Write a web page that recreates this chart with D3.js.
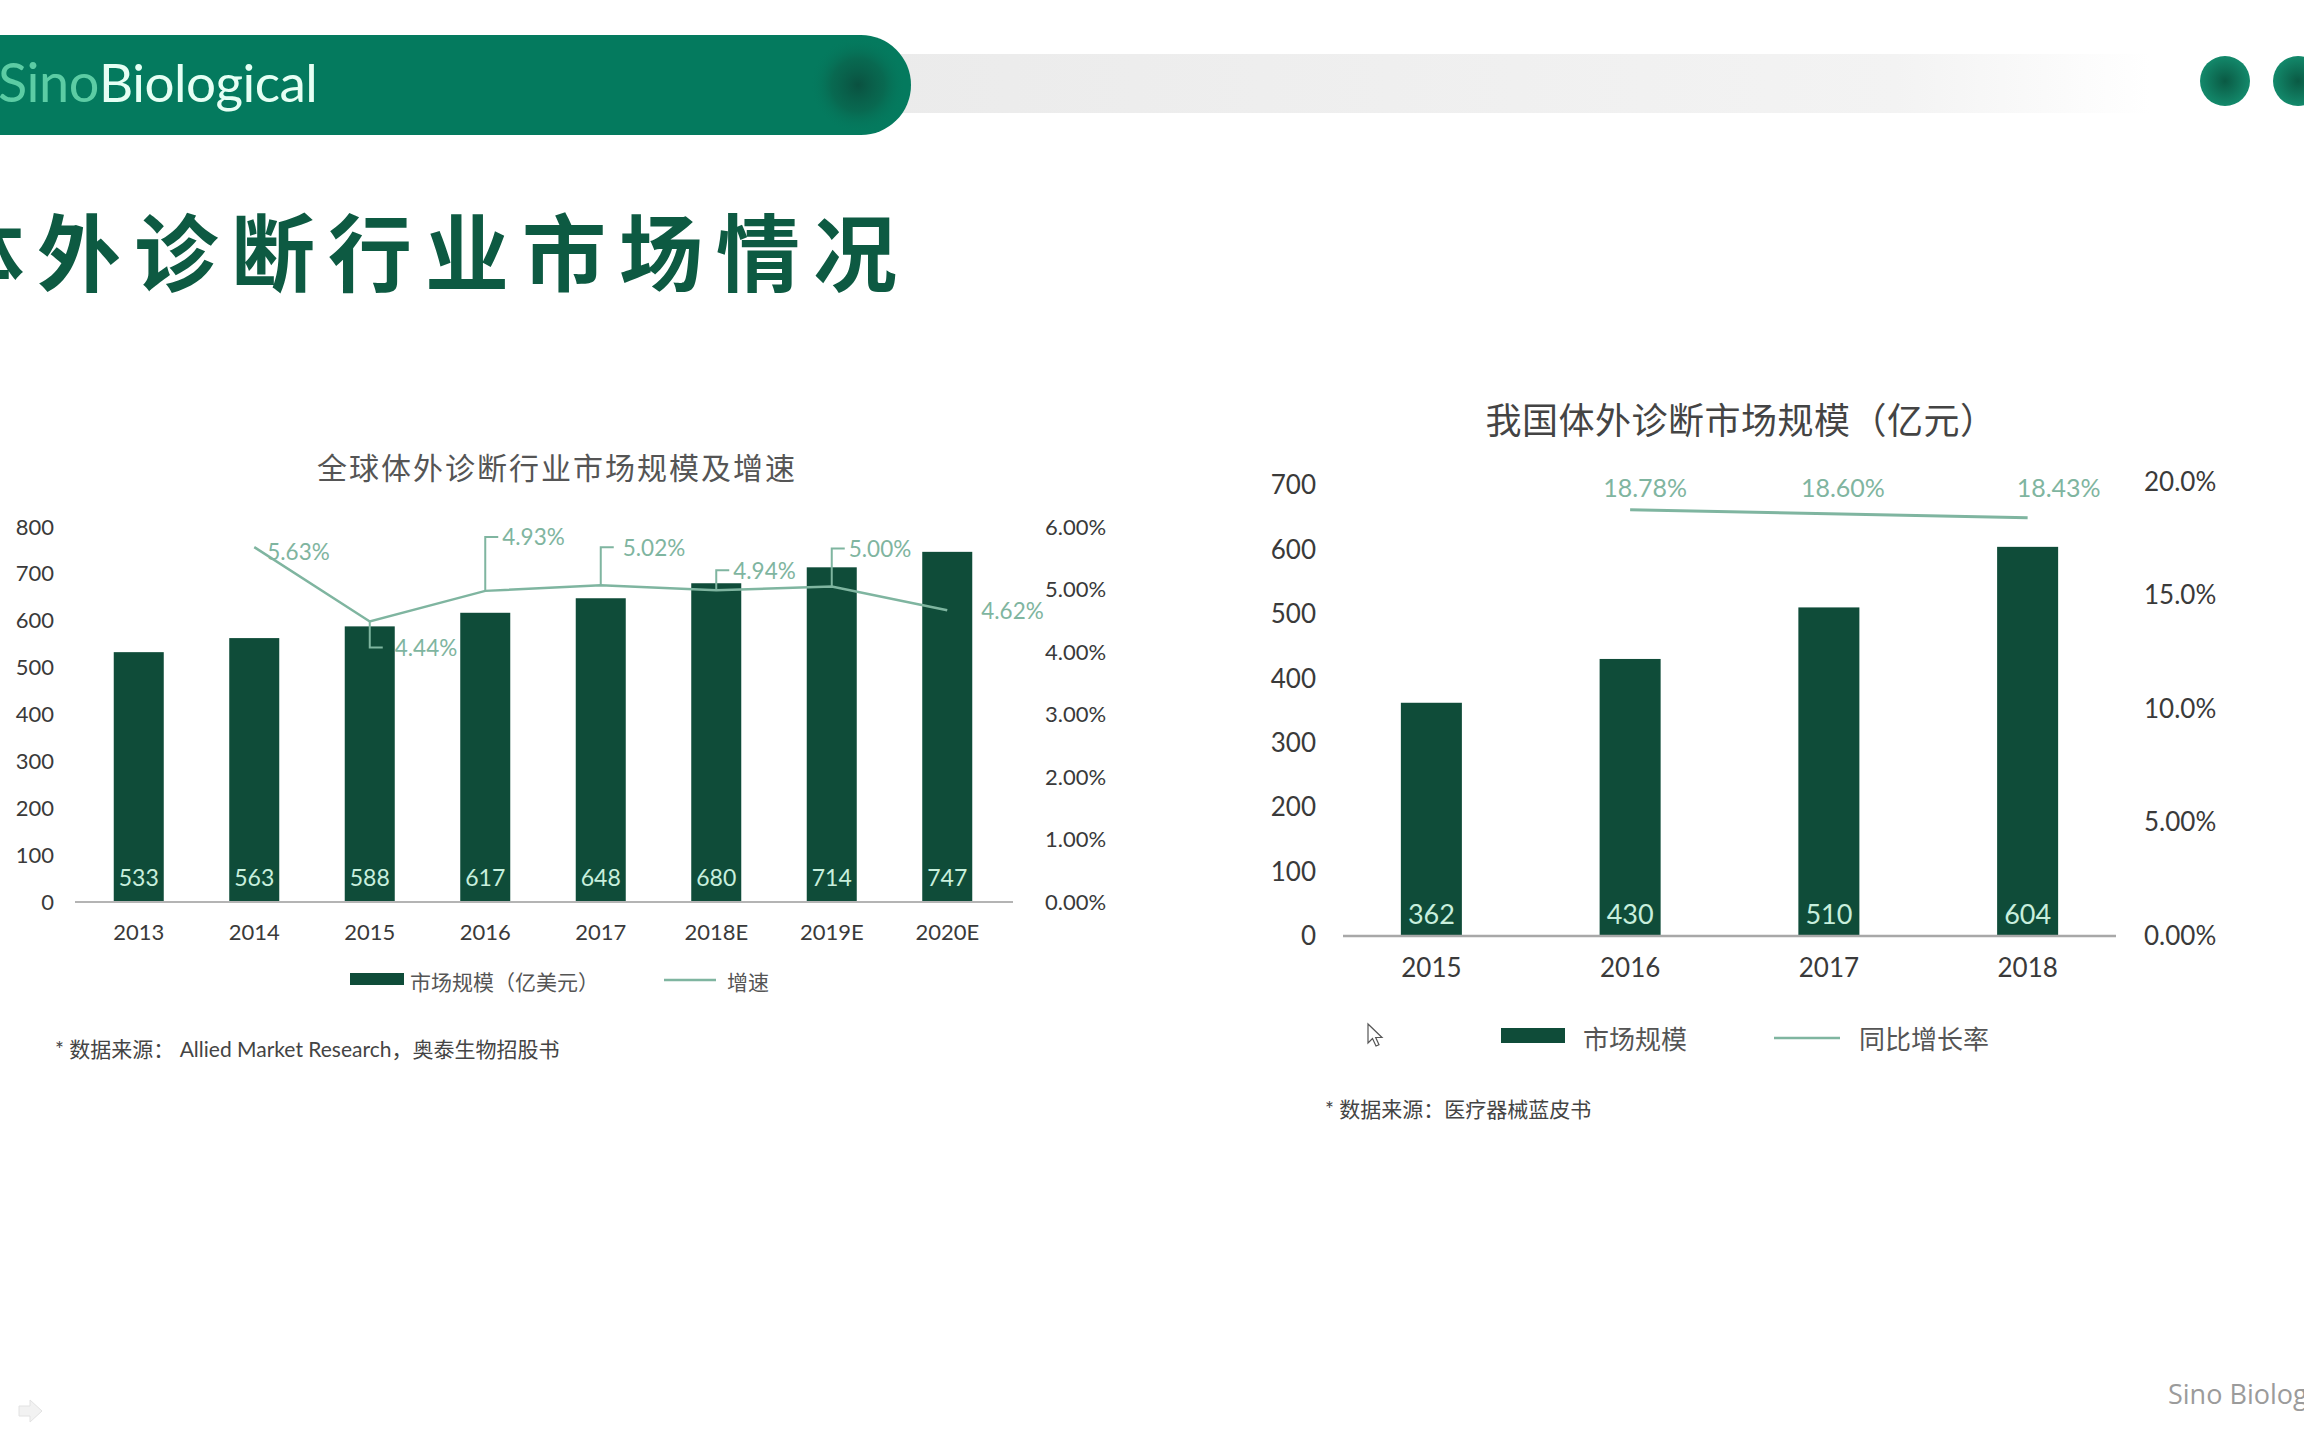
<!DOCTYPE html>
<html><head><meta charset="utf-8">
<script src="https://cdn.jsdelivr.net/npm/d3@7"></script>
<style>
html,body{margin:0;padding:0;background:#fff;}
svg{display:block;}
</style></head>
<body>
<svg id="c" width="2304" height="1440"></svg>
<script>
// ================= DATA =================
const globalYears = ["2013", "2014", "2015", "2016", "2017", "2018E", "2019E", "2020E"];
const globalSize = [533, 563, 588, 617, 648, 680, 714, 747];
const globalGrowthYears = ["2014", "2015", "2016", "2017", "2018E", "2019E", "2020E"];
const globalGrowth = [5.63, 4.44, 4.93, 5.02, 4.94, 5.00, 4.62];
const globalLeftTicks = [0, 100, 200, 300, 400, 500, 600, 700, 800];
const globalRightTicks = [0, 1, 2, 3, 4, 5, 6];
const globalRightTickLabels = ["0.00%", "1.00%", "2.00%", "3.00%", "4.00%", "5.00%", "6.00%"];

const chinaYears = ["2015", "2016", "2017", "2018"];
const chinaSize = [362, 430, 510, 604];
const chinaGrowthYears = ["2016", "2017", "2018"];
const chinaGrowth = [18.78, 18.60, 18.43];
const chinaLeftTicks = [0, 100, 200, 300, 400, 500, 600, 700];
const chinaRightTicks = [0, 5, 10, 15, 20];
const chinaRightTickLabels = ["0.00%", "5.00%", "10.0%", "15.0%", "20.0%"];

const pageTitle = "体外诊断行业市场情况";
const globalTitle = "全球体外诊断行业市场规模及增速";
const chinaTitle = "我国体外诊断市场规模（亿元）";
const globalLegend = ["市场规模（亿美元）", "增速"];
const chinaLegend = ["市场规模", "同比增长率"];
const globalSource = "* 数据来源： Allied Market Research，奥泰生物招股书";
const chinaSource = "* 数据来源：医疗器械蓝皮书";

// ================= STYLE =================
const BAR = "#0f4c39";
const LINE = "#7fb5a0";
const BARTXT = "#c8efdd";
const AXTXT = "#3a3a3a";
const LAT = "Lato, 'Noto Sans CJK SC', sans-serif";
const CJK = "'Noto Sans CJK SC', Lato, sans-serif";

const svg = d3.select("#c");
const defs = svg.append("defs");

// ---------- header ----------
const gGray = defs.append("linearGradient").attr("id", "gGray");
gGray.append("stop").attr("offset", "0").attr("stop-color", "#ebebeb");
gGray.append("stop").attr("offset", "0.8").attr("stop-color", "#f3f3f3");
gGray.append("stop").attr("offset", "1").attr("stop-color", "#ffffff");
svg.append("rect").attr("x", 880).attr("y", 54).attr("width", 1270).attr("height", 59).attr("fill", "url(#gGray)");

svg.append("path").attr("d", "M0,35 H861 A50,50 0 0 1 861,135 H0 Z").attr("fill", "#047a5e");
const gSpot = defs.append("radialGradient").attr("id", "gSpot");
gSpot.append("stop").attr("offset", "0").attr("stop-color", "#0a5140").attr("stop-opacity", 1);
gSpot.append("stop").attr("offset", "0.55").attr("stop-color", "#0b5e48").attr("stop-opacity", 0.6);
gSpot.append("stop").attr("offset", "1").attr("stop-color", "#047a5e").attr("stop-opacity", 0);
svg.append("circle").attr("cx", 858).attr("cy", 85).attr("r", 48).attr("fill", "url(#gSpot)");

svg.append("text").attr("x", -2).attr("y", 102).attr("font-family", "Lato, sans-serif").attr("font-size", 54)
  .attr("font-weight", 400).attr("fill", "#5ccca4").attr("letter-spacing", -0.5).text("Sino");
svg.append("text").attr("x", 99).attr("y", 102).attr("font-family", "Lato, sans-serif").attr("font-size", 53)
  .attr("font-weight", 400).attr("fill", "#e6fff4").attr("letter-spacing", -0.5).text("Biological");

const gDot = defs.append("radialGradient").attr("id", "gDot");
gDot.append("stop").attr("offset", "0").attr("stop-color", "#0a5a44");
gDot.append("stop").attr("offset", "1").attr("stop-color", "#13896b");
[2225, 2298].forEach(cx => svg.append("circle").attr("cx", cx).attr("cy", 81).attr("r", 25).attr("fill", "url(#gDot)"));

svg.append("text").attr("x", -60).attr("y", 248).attr("dominant-baseline", "central")
  .attr("font-family", CJK).attr("font-weight", 600).attr("font-size", 84).attr("letter-spacing", 13)
  .attr("fill", "#0d5a42").text(pageTitle);

// footer
svg.append("text").attr("x", 2168).attr("y", 1404).attr("font-family", "'Open Sans', sans-serif").attr("font-size", 27)
  .attr("fill", "#9b9b9b").text("Sino Biological");
svg.append("path").attr("d", "M19,1406 H30 V1400 L42,1411 L30,1422 V1416 H19 Z").attr("fill", "#f2f2f2").attr("stroke", "#e2e2e2");

// ================= LEFT CHART =================
const xL = d3.scaleBand().domain(globalYears).range([81, 1005]).paddingInner(0.567).paddingOuter(0.2835);
const yL = d3.scaleLinear().domain([0, 800]).range([902, 527]);
const yLp = d3.scaleLinear().domain([0, 6]).range([902, 527]);

svg.append("text").attr("x", 557).attr("y", 466).attr("text-anchor", "middle").attr("dominant-baseline", "central")
  .attr("font-family", CJK).attr("font-size", 30).attr("letter-spacing", 2).attr("fill", "#555").text(globalTitle);

const gL = svg.append("g");
gL.selectAll("rect.bar").data(globalSize).join("rect").attr("class", "bar")
  .attr("x", (d, i) => xL(globalYears[i])).attr("width", xL.bandwidth())
  .attr("y", d => yL(d)).attr("height", d => yL(0) - yL(d)).attr("fill", BAR);

gL.selectAll("text.val").data(globalSize).join("text").attr("class", "val")
  .attr("x", (d, i) => xL(globalYears[i]) + xL.bandwidth() / 2).attr("y", yL(0) - 25)
  .attr("text-anchor", "middle").attr("dominant-baseline", "central")
  .attr("font-family", LAT).attr("font-size", 23).attr("fill", BARTXT).text(d => d);

gL.append("line").attr("x1", 75).attr("x2", 1013).attr("y1", yL(0)).attr("y2", yL(0)).attr("stroke", "#b4b4b4").attr("stroke-width", 2);

const axL = gL.append("g").attr("transform", "translate(54,0)")
  .call(d3.axisLeft(yL).tickValues(globalLeftTicks).tickSize(0).tickPadding(0));
const axLr = gL.append("g").attr("transform", "translate(1045,0)")
  .call(d3.axisRight(yLp).tickValues(globalRightTicks).tickSize(0).tickPadding(0)
    .tickFormat((d, i) => globalRightTickLabels[i]));
const axLb = gL.append("g").attr("transform", `translate(0,${yL(0)})`)
  .call(d3.axisBottom(xL).tickSize(0).tickPadding(22));
[axL, axLr, axLb].forEach(a => {
  a.select(".domain").remove();
  a.selectAll("text").attr("font-family", LAT).attr("font-size", 22).attr("fill", AXTXT);
});

const ptsL = globalGrowth.map((v, i) => [xL(globalGrowthYears[i]) + xL.bandwidth() / 2, yLp(v) - 3]);
gL.append("path").attr("d", d3.line()(ptsL)).attr("fill", "none").attr("stroke", LINE).attr("stroke-width", 2.5);

const callouts = [
  {kind: "plain", dx: 13, dy: 4},
  {kind: "elbow", dy: 26, dx: 25},
  {kind: "elbow", dy: -54, dx: 17},
  {kind: "elbow", dy: -38, dx: 22},
  {kind: "elbow", dy: -20, dx: 17},
  {kind: "elbow", dy: -38, dx: 17},
  {kind: "plain", dx: 34, dy: 0}
];
ptsL.forEach((p, i) => {
  const c = callouts[i];
  if (c.kind === "elbow") {
    gL.append("path").attr("d", `M${p[0]},${p[1]} V${p[1] + c.dy} H${p[0] + 13}`)
      .attr("fill", "none").attr("stroke", LINE).attr("stroke-width", 2);
  }
  gL.append("text").attr("x", p[0] + c.dx).attr("y", p[1] + c.dy).attr("dominant-baseline", "central")
    .attr("font-family", LAT).attr("font-size", 22.5).attr("fill", LINE).text(globalGrowth[i].toFixed(2) + "%");
});

// legend
gL.append("rect").attr("x", 350).attr("y", 973).attr("width", 54).attr("height", 12).attr("fill", BAR);
gL.append("text").attr("x", 410).attr("y", 981).attr("dominant-baseline", "central").attr("font-family", CJK)
  .attr("font-size", 21).attr("fill", "#555").text(globalLegend[0]);
gL.append("line").attr("x1", 664).attr("x2", 716).attr("y1", 980).attr("y2", 980).attr("stroke", LINE).attr("stroke-width", 2.5);
gL.append("text").attr("x", 727).attr("y", 981).attr("dominant-baseline", "central").attr("font-family", CJK)
  .attr("font-size", 21).attr("fill", "#555").text(globalLegend[1]);

gL.append("text").attr("x", 55).attr("y", 1048).attr("dominant-baseline", "central").attr("font-family", LAT)
  .attr("font-size", 21).attr("fill", "#444").text(globalSource);

// ================= RIGHT CHART =================
const xR = d3.scaleBand().domain(chinaYears).range([1332, 2127]).paddingInner(0.693).paddingOuter(0.3465);
const yR = d3.scaleLinear().domain([0, 700]).range([936, 485]);
const yRp = d3.scaleLinear().domain([0, 20]).range([936, 482]);

svg.append("text").attr("x", 1741).attr("y", 418).attr("text-anchor", "middle").attr("dominant-baseline", "central")
  .attr("font-family", CJK).attr("font-size", 36).attr("letter-spacing", 0.5).attr("fill", "#444").text(chinaTitle);

const gR = svg.append("g");
gR.selectAll("rect.bar").data(chinaSize).join("rect").attr("class", "bar")
  .attr("x", (d, i) => xR(chinaYears[i])).attr("width", xR.bandwidth())
  .attr("y", d => yR(d)).attr("height", d => yR(0) - yR(d)).attr("fill", BAR);
gR.selectAll("text.val").data(chinaSize).join("text").attr("class", "val")
  .attr("x", (d, i) => xR(chinaYears[i]) + xR.bandwidth() / 2).attr("y", yR(0) - 23)
  .attr("text-anchor", "middle").attr("dominant-baseline", "central")
  .attr("font-family", LAT).attr("font-size", 27).attr("fill", BARTXT).text(d => d);

gR.append("line").attr("x1", 1343).attr("x2", 2116).attr("y1", yR(0)).attr("y2", yR(0)).attr("stroke", "#a8a8a8").attr("stroke-width", 2.5);

const axR = gR.append("g").attr("transform", "translate(1316,0.5)")
  .call(d3.axisLeft(yR).tickValues(chinaLeftTicks).tickSize(0).tickPadding(0));
const axRr = gR.append("g").attr("transform", "translate(2144,0)")
  .call(d3.axisRight(yRp).tickValues(chinaRightTicks).tickSize(0).tickPadding(0)
    .tickFormat((d, i) => chinaRightTickLabels[i]));
const axRb = gR.append("g").attr("transform", `translate(0,${yR(0)})`)
  .call(d3.axisBottom(xR).tickSize(0).tickPadding(23));
[axR, axRr, axRb].forEach(a => {
  a.select(".domain").remove();
  a.selectAll("text").attr("font-family", LAT).attr("font-size", 26).attr("fill", AXTXT);
});

const ptsR = chinaGrowth.map((v, i) => [xR(chinaGrowthYears[i]) + xR.bandwidth() / 2, yRp(v)]);
gR.append("path").attr("d", d3.line()(ptsR)).attr("fill", "none").attr("stroke", LINE).attr("stroke-width", 3);
const labDx = [15, 14, 31];
const labY = yRp(d3.max(chinaGrowth)) - 23;
ptsR.forEach((p, i) => {
  gR.append("text").attr("x", p[0] + labDx[i]).attr("y", labY).attr("text-anchor", "middle").attr("dominant-baseline", "central")
    .attr("font-family", LAT).attr("font-size", 25).attr("fill", LINE).text(chinaGrowth[i].toFixed(2) + "%");
});

// legend
gR.append("rect").attr("x", 1501).attr("y", 1028).attr("width", 64).attr("height", 15).attr("fill", BAR);
gR.append("text").attr("x", 1583).attr("y", 1037).attr("dominant-baseline", "central").attr("font-family", CJK)
  .attr("font-size", 26).attr("fill", "#555").text(chinaLegend[0]);
gR.append("line").attr("x1", 1774).attr("x2", 1840).attr("y1", 1038).attr("y2", 1038).attr("stroke", LINE).attr("stroke-width", 2.5);
gR.append("text").attr("x", 1859).attr("y", 1037).attr("dominant-baseline", "central").attr("font-family", CJK)
  .attr("font-size", 26).attr("fill", "#555").text(chinaLegend[1]);

gR.append("text").attr("x", 1325).attr("y", 1108).attr("dominant-baseline", "central").attr("font-family", LAT)
  .attr("font-size", 21).attr("fill", "#444").text(chinaSource);

// mouse cursor artifact
svg.append("path").attr("d", "M1368,1024 V1043 L1372.5,1038.5 L1376,1046 L1379,1044.7 L1375.7,1037.5 L1382,1037.5 Z")
  .attr("fill", "#fff").attr("stroke", "#555").attr("stroke-width", 1.2);
</script>
</body></html>
